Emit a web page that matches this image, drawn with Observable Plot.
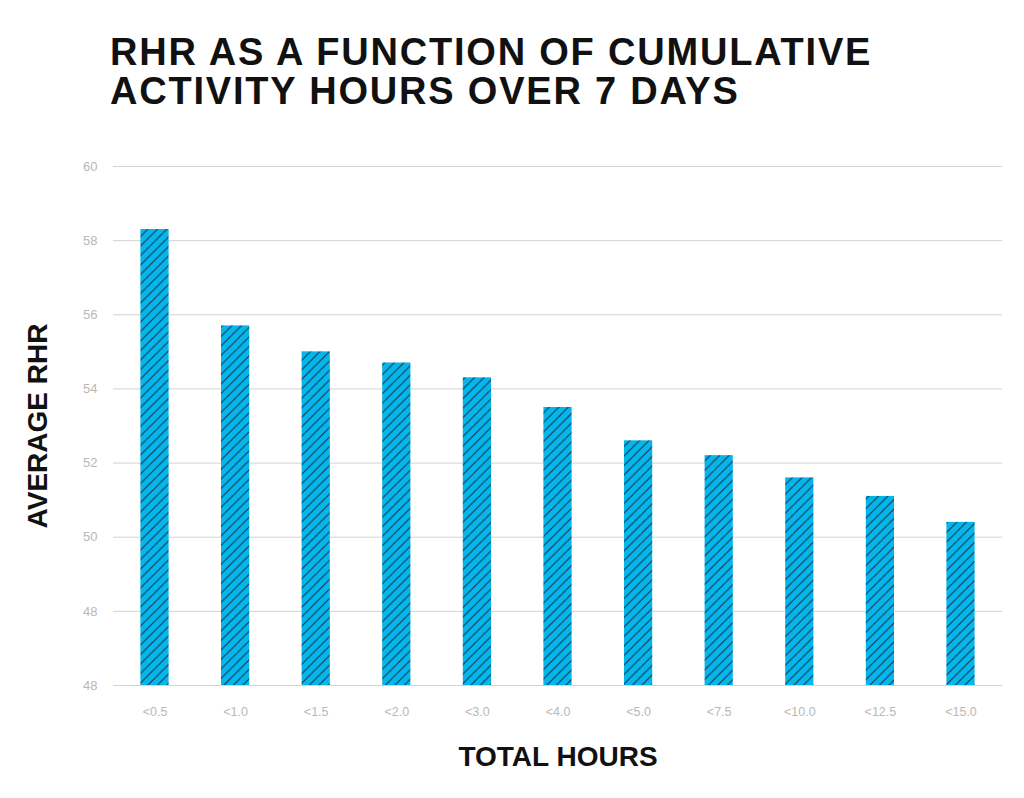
<!DOCTYPE html>
<html><head><meta charset="utf-8">
<script src="https://cdn.jsdelivr.net/npm/d3@7"></script>
<script src="https://cdn.jsdelivr.net/npm/@observablehq/plot@0.6"></script>
<style>
body{margin:0;background:#fff;font-family:"Liberation Sans",Arial,sans-serif;}
#title{position:relative;height:130px;}
#title h1{position:absolute;left:110px;top:33px;margin:0;font-size:38px;line-height:39px;font-weight:bold;letter-spacing:1.8px;color:#111;white-space:nowrap;}
#chart svg{display:block;}
</style></head><body>
<div id="title"><h1>RHR AS A FUNCTION OF CUMULATIVE<br>ACTIVITY HOURS OVER 7 DAYS</h1></div>
<div id="chart"></div>
<script>
const categories = ["<0.5", "<1.0", "<1.5", "<2.0", "<3.0", "<4.0", "<5.0", "<7.5", "<10.0", "<12.5", "<15.0"];
const values = [58.3, 55.7, 55.0, 54.7, 54.3, 53.5, 52.6, 52.2, 51.6, 51.1, 50.4];
const yTicks = [46, 48, 50, 52, 54, 56, 58, 60];
const yTickLabels = ["48", "48", "50", "52", "54", "56", "58", "60"];
const xTitle = "TOTAL HOURS";
const yTitle = "AVERAGE RHR";

const barColor = "#03b7ee";
const hatchColor = "#1b2f3c";

const data = categories.map((c, i) => ({hours: c, rhr: values[i]}));

const chart = Plot.plot({
  width: 1024,
  height: 668,
  marginTop: 36,
  marginBottom: 113,
  marginLeft: 113,
  marginRight: 22,
  style: {fontFamily: "'Liberation Sans', Arial, sans-serif", background: "#fff", overflow: "visible"},
  x: {domain: categories, paddingInner: 0.65, paddingOuter: 0.34, round: false},
  y: {domain: [yTicks[0], yTicks[yTicks.length - 1]]},
  marks: [
    Plot.gridY(yTicks, {stroke: "#d2d2d2", strokeOpacity: 1, strokeWidth: 1}),
    Plot.barY(data, {x: "hours", y1: yTicks[0], y2: "rhr", fill: "url(#hatch)"}),
    Plot.axisY({ticks: yTicks, tickFormat: d => yTickLabels[yTicks.indexOf(d)], tickSize: 0, tickPadding: 16, fontSize: 13, color: "#b8b8b8", label: null}),
    Plot.axisX({tickSize: 0, tickPadding: 22, fontSize: 12.5, color: "#b8b8b8", label: null}),
    Plot.text([xTitle], {text: d => d, frameAnchor: "bottom", dy: 80, lineAnchor: "bottom", textAnchor: "middle", fontSize: 28, fontWeight: "bold", fill: "#111"}),
    Plot.text([yTitle], {text: d => d, frameAnchor: "left", dx: -66.3, rotate: -90, lineAnchor: "bottom", textAnchor: "middle", fontSize: 28, fontWeight: "bold", fill: "#111"})
  ]
});

const defs = d3.select(chart).insert("defs", ":first-child");
const pat = defs.append("pattern").attr("id", "hatch").attr("patternUnits", "userSpaceOnUse").attr("width", 9.5).attr("height", 9.5);
pat.append("rect").attr("width", 9.5).attr("height", 9.5).attr("fill", barColor);
pat.append("path").attr("d", "M-1,10.5 L10.5,-1 M-1,1 L1,-1 M8.5,10.5 L10.5,8.5").attr("stroke", hatchColor).attr("stroke-width", 1.05).attr("fill", "none");

document.getElementById("chart").appendChild(chart);
</script>
</body></html>
